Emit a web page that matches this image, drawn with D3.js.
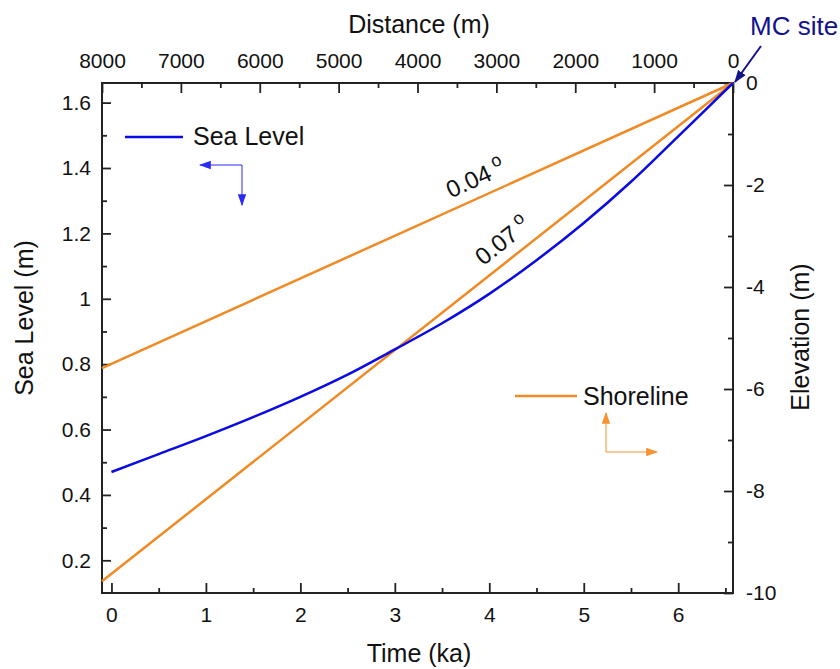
<!DOCTYPE html>
<html>
<head>
<meta charset="utf-8">
<title>Sea level and shoreline</title>
<script src="https://cdnjs.cloudflare.com/ajax/libs/d3/7.8.5/d3.min.js"></script>
<style>
    body { margin: 0; background: #fff; }
    svg { display: block; font-family: "Liberation Sans", Arial, sans-serif; }
    .tick text { font-size: 21px; fill: #111; }
    .tick line { stroke: #222; stroke-width: 1.8px; }
</style>
</head>
<body>
<div id="chart"></div>
<script>
// datos
const timeKa = [0, 0.5, 1, 1.5, 2, 2.5, 3, 3.5, 4, 4.5, 5, 5.5, 6, 6.58]
const seaLevel = [0.47, 0.525, 0.58, 0.638, 0.70, 0.768, 0.845, 0.925, 1.015, 1.118, 1.232, 1.358, 1.497, 1.66]

// linea de costa: distancia (m) y elevacion (m) para cada pendiente
const shoreDistance = [0, 8000]
const shoreElev004 = [0, -5.59]
const shoreElev007 = [0, -9.77]
const slopeLabels = ["0.04", "0.07"]
const labelDistance = [3520, 3080]

// ticks
const timeTicks = [0, 1, 2, 3, 4, 5, 6]
const timeMinor = [0.5, 1.5, 2.5, 3.5, 4.5, 5.5, 6.5]
const distTicks = [8000, 7000, 6000, 5000, 4000, 3000, 2000, 1000, 0]
const distMinor = [7500, 6500, 5500, 4500, 3500, 2500, 1500, 500]
const seaTicks = [0.2, 0.4, 0.6, 0.8, 1, 1.2, 1.4, 1.6]
const seaMinor = [0.3, 0.5, 0.7, 0.9, 1.1, 1.3, 1.5]
const elevTicks = [-10, -8, -6, -4, -2, 0]
const elevMinor = [-9, -7, -5, -3, -1]

const W = 840, H = 669
const L = 102, R = 733, T = 83, B = 593
const BLUE = "#0a0ae6", ORANGE = "#F08A24", NAVY = "#12128c"

const svg = d3.select("#chart").append("svg").attr("width", W).attr("height", H)

const x = d3.scaleLinear().domain([-0.1, 6.58]).range([L, R])
const xd = d3.scaleLinear().domain([8000, 0]).range([L, R])
const yL = d3.scaleLinear().domain([0.1, 1.66]).range([B, T])
const yR = d3.scaleLinear().domain([-10, 0]).range([B, T])

// ejes principales (ticks hacia dentro)
function addAxis(axis, tx, ty) {
    const g = svg.append("g").attr("transform", `translate(${tx},${ty})`).call(axis)
    g.select(".domain").remove()
    return g
}
addAxis(d3.axisBottom(x).tickValues(timeTicks).tickSize(-10).tickPadding(14).tickFormat(d => d), 0, B)
addAxis(d3.axisBottom(x).tickValues(timeMinor).tickSize(-5).tickFormat(""), 0, B)
addAxis(d3.axisTop(xd).tickValues(distTicks).tickSize(-10).tickPadding(15).tickFormat(d => d), 0, T)
addAxis(d3.axisTop(xd).tickValues(distMinor).tickSize(-5).tickFormat(""), 0, T)
addAxis(d3.axisLeft(yL).tickValues(seaTicks).tickSize(-9).tickPadding(11).tickFormat(d => d), L, 0)
addAxis(d3.axisLeft(yL).tickValues(seaMinor).tickSize(-5).tickFormat(""), L, 0)
addAxis(d3.axisRight(yR).tickValues(elevTicks).tickSize(-9).tickPadding(13).tickFormat(d => d), R, 0)
addAxis(d3.axisRight(yR).tickValues(elevMinor).tickSize(-5).tickFormat(""), R, 0)

// marco
svg.append("rect").attr("x", L).attr("y", T).attr("width", R - L).attr("height", B - T)
    .attr("fill", "none").attr("stroke", "#222").attr("stroke-width", 2)

// titulos de ejes
svg.append("text").attr("x", 419).attr("y", 33).attr("text-anchor", "middle")
    .style("font-size", "25px").attr("fill", "#111").text("Distance (m)")
svg.append("text").attr("x", 419).attr("y", 662).attr("text-anchor", "middle")
    .style("font-size", "25px").attr("fill", "#111").text("Time (ka)")
svg.append("text").attr("transform", "translate(24,318) rotate(-90)").attr("text-anchor", "middle")
    .attr("dominant-baseline", "central").style("font-size", "25px").attr("fill", "#111").text("Sea Level (m)")
svg.append("text").attr("transform", "translate(800,337) rotate(-90)").attr("text-anchor", "middle")
    .attr("dominant-baseline", "central").style("font-size", "25px").attr("fill", "#111").text("Elevation (m)")

// lineas de costa
const shoreLine = d3.line().x(d => xd(d[0])).y(d => yR(d[1]))
const shoreSets = [shoreElev004, shoreElev007]
shoreSets.forEach(function (elev) {
    svg.append("path").datum(d3.zip(shoreDistance, elev))
        .attr("d", shoreLine).attr("fill", "none")
        .attr("stroke", ORANGE).attr("stroke-width", 2.5)
})

// nivel del mar
svg.append("path").datum(d3.zip(timeKa, seaLevel))
    .attr("d", d3.line().x(d => x(d[0])).y(d => yL(d[1])).curve(d3.curveCatmullRom))
    .attr("fill", "none").attr("stroke", BLUE).attr("stroke-width", 2.5)

// etiquetas de pendiente
shoreSets.forEach(function (elev, i) {
    const slope = elev[1] / shoreDistance[1]
    const px = xd(labelDistance[i]), py = yR(slope * labelDistance[i])
    const ang = Math.atan2(yR(elev[1]) - yR(elev[0]), xd(shoreDistance[1]) - xd(shoreDistance[0])) * 180 / Math.PI + 180
    const t = svg.append("text").attr("transform", `translate(${px},${py}) rotate(${ang})`)
        .attr("y", -11).style("font-size", "24px").attr("fill", "#111")
    t.append("tspan").text(slopeLabels[i])
    t.append("tspan").attr("dx", 5).attr("dy", -10).style("font-size", "18px").text("o")
})

// flechas
const defs = svg.append("defs")
function marker(id, color, size) {
    defs.append("marker").attr("id", id).attr("viewBox", "0 0 10 10").attr("refX", 9).attr("refY", 5)
        .attr("markerWidth", size).attr("markerHeight", size).attr("markerUnits", "userSpaceOnUse")
        .attr("orient", "auto")
        .append("path").attr("d", "M0,1.5 L10,5 L0,8.5 Z").attr("fill", color)
}
marker("ab", "#2a2af5", 12)
marker("ao", "#F7922E", 12)
marker("an", NAVY, 13)

function arrow(x1, y1, x2, y2, color, m, w) {
    svg.append("line").attr("x1", x1).attr("y1", y1).attr("x2", x2).attr("y2", y2)
        .attr("stroke", color).attr("stroke-width", w).attr("marker-end", `url(#${m})`)
}

// leyenda Sea Level
svg.append("line").attr("x1", 125).attr("x2", 183).attr("y1", 137).attr("y2", 137)
    .attr("stroke", BLUE).attr("stroke-width", 2.5)
svg.append("text").attr("x", 193).attr("y", 145).style("font-size", "25px").attr("fill", "#111").text("Sea Level")
arrow(242, 165, 200, 165, "#2a2af5", "ab", 1)
arrow(242, 165, 242, 205, "#2a2af5", "ab", 1)

// leyenda Shoreline
svg.append("line").attr("x1", 515).attr("x2", 577).attr("y1", 396).attr("y2", 396)
    .attr("stroke", ORANGE).attr("stroke-width", 2.5)
svg.append("text").attr("x", 583).attr("y", 405).style("font-size", "25px").attr("fill", "#111").text("Shoreline")
arrow(606, 452, 606, 413, "#F7922E", "ao", 1)
arrow(606, 452, 657, 452, "#F7922E", "ao", 1)

// MC site
svg.append("text").attr("x", 750).attr("y", 35).style("font-size", "26px").attr("fill", NAVY).text("MC site")
arrow(761, 46, 735, 82, NAVY, "an", 2)
</script>
</body>
</html>
